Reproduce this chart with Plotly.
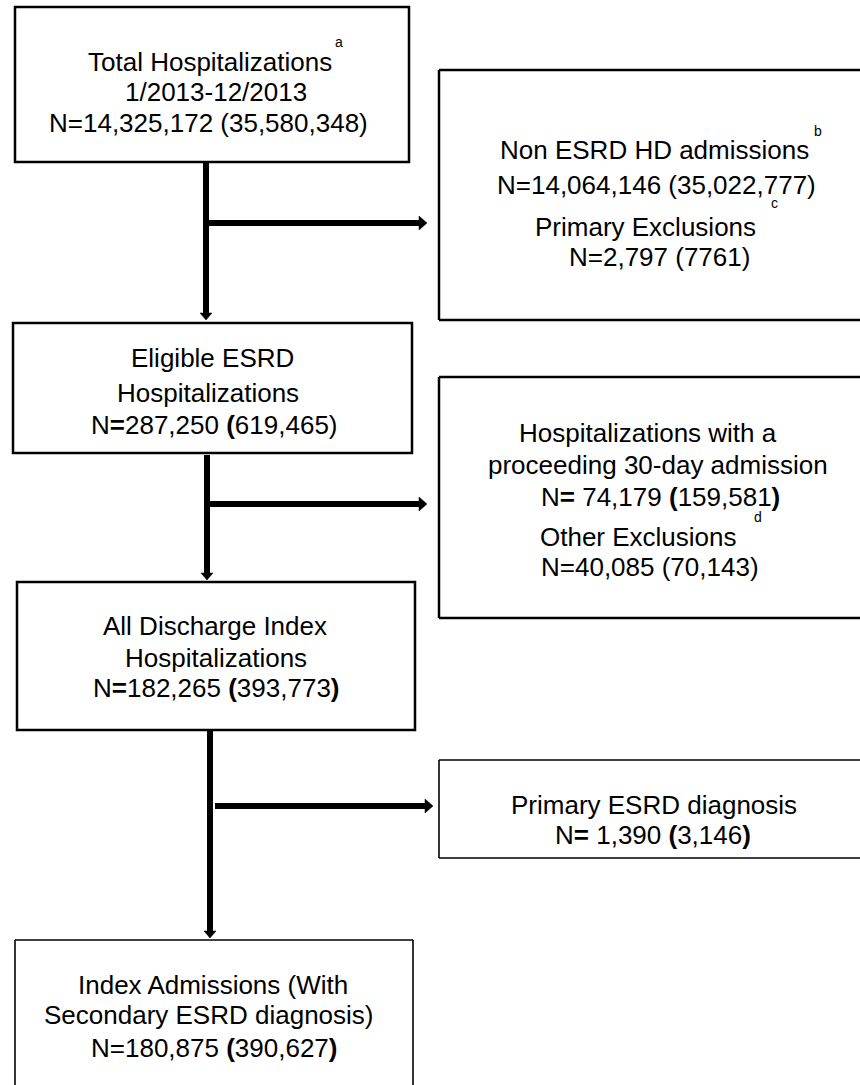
import plotly.graph_objects as go

W, H = 860, 1085
FONT = "Liberation Sans, Arial, sans-serif"

# ---------------- text content ----------------
total_lines = ["Total Hospitalizations", "1/2013-12/2013", "N=14,325,172 (35,580,348)"]
nonesrd_lines = ["Non ESRD HD admissions", "N=14,064,146 (35,022,777)",
                 "Primary Exclusions", "N=2,797 (7761)"]
eligible_lines = ["Eligible ESRD", "Hospitalizations", "N<b>=</b>287,250 <b>(</b>619,465)"]
readmit_lines = ["Hospitalizations with a", "proceeding 30-day admission",
                 "N<b>=</b> 74,179 <b>(</b>159,581<b>)</b>", "Other Exclusions",
                 "N=40,085 (70,143)"]
discharge_lines = ["All Discharge Index", "Hospitalizations",
                   "N<b>=</b>182,265 <b>(</b>393,773<b>)</b>"]
primary_lines = ["Primary ESRD diagnosis", "N<b>=</b> 1,390 <b>(</b>3,146<b>)</b>"]
index_lines = ["Index Admissions (With", "Secondary ESRD diagnosis)",
               "N=180,875 <b>(</b>390,627<b>)</b>"]
footnotes = ["a", "b", "c", "d"]

# ---------------- layout geometry (pixels) ----------------
closed_boxes = [
    (15, 7, 409, 162, 2.5),
    (13, 323, 412, 453, 2.5),
    (17, 582, 415, 730, 2.5),
]
# boxes that run off the right edge: draw top, left and bottom sides only
right_boxes = [
    (439, 70, 320, 2.5),
    (439, 377, 618, 2.5),
    (439, 760, 858, 1.6),
]
# box that runs off the bottom edge: draw left, top and right sides only
bottom_boxes = [(15, 940, 413, 1.6)]

text_blocks = [
    (total_lines, [(210, 62), (216, 92), (208, 123)]),
    (nonesrd_lines, [(654, 150), (656, 185), (645, 227), (659, 257)]),
    (eligible_lines, [(212, 358), (208, 393), (214, 425)]),
    (readmit_lines, [(648, 433), (658, 465), (660, 497), (638, 537), (650, 567)]),
    (discharge_lines, [(215, 626), (216, 658), (216, 688)]),
    (primary_lines, [(654, 805), (653, 835)]),
    (index_lines, [(213, 985), (209, 1015), (214, 1048)]),
]
foot_pos = [(339, 42), (818, 131), (774, 203), (758, 517)]

down_arrows = [(206, 163, 320), (207, 455, 580), (210, 731, 938)]
right_arrows = [(206, 427, 223), (207, 427, 504), (215, 433, 806)]
LW = 6

fig = go.Figure()
fig.add_trace(go.Scatter(x=[0, W], y=[0, H], mode="markers",
                         marker=dict(opacity=0), hoverinfo="skip", showlegend=False))

shapes = []
for x0, y0, x1, y1, lw in closed_boxes:
    shapes.append(dict(type="rect", xref="x", yref="y", x0=x0, y0=y0, x1=x1, y1=y1,
                       line=dict(color="black", width=lw), fillcolor="rgba(0,0,0,0)"))
for x0, y0, y1, lw in right_boxes:
    for (xa, ya, xb, yb) in [(x0, y0, W, y0), (x0, y0, x0, y1), (x0, y1, W, y1)]:
        shapes.append(dict(type="line", xref="x", yref="y", x0=xa, y0=ya, x1=xb, y1=yb,
                           line=dict(color="black", width=lw)))
for x0, y0, x1, lw in bottom_boxes:
    for (xa, ya, xb, yb) in [(x0, y0, x0, H), (x0, y0, x1, y0), (x1, y0, x1, H)]:
        shapes.append(dict(type="line", xref="x", yref="y", x0=xa, y0=ya, x1=xb, y1=yb,
                           line=dict(color="black", width=lw)))

for x, ya, yb in down_arrows:
    shapes.append(dict(type="line", xref="x", yref="y", x0=x, x1=x, y0=ya, y1=yb - 5,
                       line=dict(color="black", width=LW)))
    shapes.append(dict(type="path", xref="x", yref="y",
                       path=f"M{x-6},{yb-7} L{x+6},{yb-7} L{x},{yb} Z",
                       fillcolor="black", line=dict(color="black", width=0.5)))
for xa, xb, y in right_arrows:
    shapes.append(dict(type="line", xref="x", yref="y", x0=xa, x1=xb - 6, y0=y, y1=y,
                       line=dict(color="black", width=LW)))
    shapes.append(dict(type="path", xref="x", yref="y",
                       path=f"M{xb-8},{y-7} L{xb-8},{y+7} L{xb},{y} Z",
                       fillcolor="black", line=dict(color="black", width=0.5)))

annotations = []
for lines, pos in text_blocks:
    for txt, (cx, cy) in zip(lines, pos):
        annotations.append(dict(x=cx, y=cy, xref="x", yref="y", text=txt, showarrow=False,
                                xanchor="center", yanchor="middle",
                                font=dict(family=FONT, size=26, color="black")))
for letter, (fx, fy) in zip(footnotes, foot_pos):
    annotations.append(dict(x=fx, y=fy, xref="x", yref="y", text=letter, showarrow=False,
                            xanchor="center", yanchor="middle",
                            font=dict(family=FONT, size=14, color="black")))

fig.update_layout(
    width=W, height=H,
    margin=dict(l=0, r=0, t=0, b=0),
    paper_bgcolor="white", plot_bgcolor="white",
    xaxis=dict(range=[0, W], visible=False, fixedrange=True),
    yaxis=dict(range=[H, 0], visible=False, fixedrange=True),
    shapes=shapes, annotations=annotations, showlegend=False,
)
fig.write_html("out.html", config={"displayModeBar": False},
               post_script="document.body.style.margin='0px';")
